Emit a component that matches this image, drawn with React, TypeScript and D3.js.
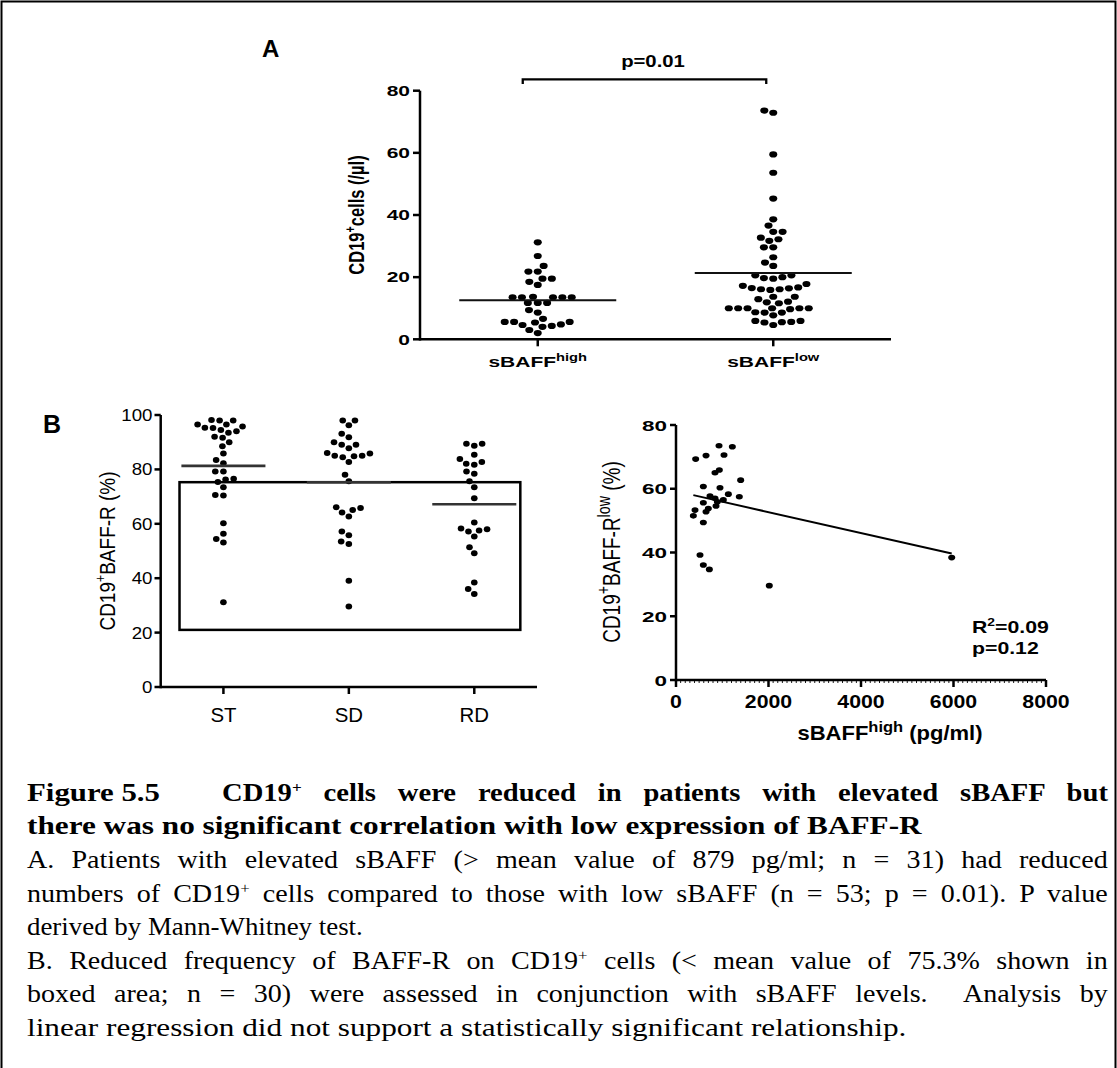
import React, { useLayoutEffect, useRef } from 'react';
import * as d3 from 'd3';

const W = 1117;
const H = 1068;
const SANS = '"Liberation Sans", Arial, sans-serif';
const SERIF = '"Liberation Serif", "Times New Roman", serif';

// ---------- Panel A data ----------
const groupsA = ['sBAFF_high', 'sBAFF_low'];
const highValues = [31.2, 26.8, 23.6, 21.8, 21.8, 19.5, 19.5, 18.5, 17.5, 13.5, 13.5, 13.5, 13.5, 13.5, 13.7, 11.7, 11.7, 11.7, 9.4, 8.6, 6.6, 5.6, 5.4, 5.6, 5.6, 4.3, 4.6, 4.8, 4.0, 3.0, 2.0];
const lowValues = [73.6, 72.9, 59.5, 53.6, 45.3, 38.6, 36.6, 34.6, 34.6, 32.2, 32.7, 31.7, 29.6, 29.6, 26.4, 24.7, 23.6, 20.6, 19.5, 19.7, 20.6, 20.0, 17.8, 16.7, 16.4, 15.9, 16.1, 16.1, 16.5, 17.2, 13.7, 11.9, 11.6, 12.1, 12.9, 13.7, 10.0, 10.0, 10.0, 8.7, 8.6, 7.7, 8.6, 9.7, 10.0, 10.0, 10.0, 5.9, 5.5, 4.6, 5.4, 5.6, 5.9];
const mediansA = [12.6, 21.3];
const yTicksA = [0, 20, 40, 60, 80];
const pTextA = 'p=0.01';

// ---------- Panel B left data ----------
const groupsB = ['ST', 'SD', 'RD'];
const stValues = [98.0, 98.0, 98.2, 95.8, 95.2, 96.5, 96.5, 95.3, 94.5, 93.5, 94.0, 92.0, 91.6, 90.0, 88.5, 85.8, 83.5, 82.3, 79.2, 79.2, 76.3, 75.4, 76.6, 73.4, 70.4, 70.6, 60.2, 56.3, 54.4, 53.1, 31.2];
const sdValues = [98.0, 98.0, 96.2, 93.1, 91.8, 90.0, 89.1, 89.1, 87.8, 85.0, 84.5, 86.0, 84.8, 85.8, 85.0, 82.7, 78.0, 75.6, 65.1, 66.1, 65.8, 64.2, 62.7, 57.2, 55.8, 52.6, 53.5, 39.1, 29.6];
const rdValues = [89.4, 88.7, 89.4, 83.8, 85.4, 82.1, 81.7, 82.7, 79.2, 78.4, 75.6, 73.4, 69.4, 60.5, 58.0, 57.2, 55.3, 57.5, 58.3, 49.2, 51.4, 38.4, 34.2, 36.0];
const mediansB = [81.3, 75.3, 67.2];
const boxRangeB = [21, 75.3];
const yTicksB = [0, 20, 40, 60, 80, 100];

// ---------- Panel B right data ----------
const sbaffX = [425, 649, 930, 1218, 1038, 843, 937, 1398, 591, 951, 1132, 1369, 735, 843, 894, 591, 699, 649, 865, 1023, 411, 375, 591, 519, 591, 721, 2017, 5961];
const baffLowY = [69.3, 70.4, 73.5, 73.2, 70.6, 65.0, 65.9, 62.7, 60.7, 60.3, 58.3, 57.5, 57.7, 57.0, 55.9, 55.6, 53.8, 52.8, 54.6, 56.5, 53.3, 51.5, 49.4, 39.2, 36.1, 34.7, 29.6, 38.4];
const regIntercept = 59.23;
const regSlope = -0.003283;
const xTicksC = [0, 2000, 4000, 6000, 8000];
const yTicksC = [0, 20, 40, 60, 80];
const statsC = ['R', '=0.09', 'p=0.12'];

// ---------- Caption ----------
type Seg = { t: string; sup?: boolean };
type CapLine = { x0: number; x1: number; y: number; bold?: boolean; justify?: boolean; segs: Seg[] };
const captionLines: CapLine[] = [
  { x0: 27, x1: 160, y: 801, bold: true, segs: [{ t: 'Figure 5.5' }] },
  { x0: 222, x1: 1108, y: 801, bold: true, justify: true, segs: [{ t: 'CD19' }, { t: '+', sup: true }, { t: ' cells were reduced in patients with elevated sBAFF but' }] },
  { x0: 27, x1: 922, y: 834, bold: true, segs: [{ t: 'there was no significant correlation with low expression of BAFF-R' }] },
  { x0: 27, x1: 1108, y: 868, justify: true, segs: [{ t: 'A. Patients with elevated sBAFF (> mean value of 879 pg/ml; n = 31) had reduced' }] },
  { x0: 27, x1: 1108, y: 901.5, justify: true, segs: [{ t: 'numbers of CD19' }, { t: '+', sup: true }, { t: ' cells compared to those with low sBAFF (n = 53; p = 0.01). P value' }] },
  { x0: 27, x1: 363, y: 935, segs: [{ t: 'derived by Mann-Whitney test.' }] },
  { x0: 27, x1: 1108, y: 968.5, justify: true, segs: [{ t: 'B. Reduced frequency of BAFF-R on CD19' }, { t: '+', sup: true }, { t: ' cells (< mean value of 75.3% shown in' }] },
  { x0: 27, x1: 1108, y: 1002, justify: true, segs: [{ t: 'boxed area; n = 30) were assessed in conjunction with sBAFF levels.  Analysis by' }] },
  { x0: 27, x1: 907, y: 1035.5, segs: [{ t: 'linear regression did not support a statistically significant relationship.' }] },
];

function renderSegs(segs: Seg[], fs: number, supScale = 0.65, supShift = 0.42) {
  const out: React.ReactNode[] = [];
  segs.forEach((s, i) => {
    if (s.sup) {
      out.push(<tspan key={i} fontSize={fs * supScale} dy={-fs * supShift}>{s.t}</tspan>);
    } else {
      const prevSup = i > 0 && segs[i - 1].sup;
      out.push(<tspan key={i} dy={prevSup ? fs * supShift : undefined}>{s.t}</tspan>);
    }
  });
  return out;
}

function SText(props: { x: number; y: number; sx?: number; rot?: boolean; anchor?: string; fs: number; bold?: boolean; segs: Seg[]; supScale?: number }) {
  const { x, y, sx = 1, rot = false, anchor = 'start', fs, bold = false, segs, supScale } = props;
  return (
    <text
      transform={`translate(${x},${y}) scale(${sx},1)${rot ? ' rotate(-90)' : ''}`}
      textAnchor={anchor as any}
      fontSize={fs}
      fontWeight={bold ? 'bold' : 'normal'}
      fontFamily={SANS}
      fill="#000"
      style={{ whiteSpace: 'pre' }}
    >
      {renderSegs(segs, fs, supScale)}
    </text>
  );
}

// simple deterministic beeswarm: returns horizontal offsets (unstretched px)
function swarm(vals: number[], y: (v: number) => number, d: number): number[] {
  const idx = vals.map((_, i) => i).sort((a, b) => vals[a] - vals[b]);
  const placed: { x: number; y: number }[] = [];
  const out = new Array(vals.length).fill(0);
  for (const i of idx) {
    const yi = y(vals[i]);
    const intervals: [number, number][] = [];
    for (const p of placed) {
      const dy = Math.abs(p.y - yi);
      if (dy < d) {
        const dx = Math.sqrt(d * d - dy * dy);
        intervals.push([p.x - dx, p.x + dx]);
      }
    }
    const cands = [0];
    intervals.forEach(([a, b]) => cands.push(a, b));
    cands.sort((a, b) => Math.abs(a) - Math.abs(b) || a - b);
    let best = 0;
    for (const c of cands) {
      if (intervals.every(([a, b]) => c <= a + 1e-6 || c >= b - 1e-6)) {
        best = c;
        break;
      }
    }
    out[i] = best;
    placed.push({ x: best, y: yi });
  }
  return out;
}

const CAP_FS = 25.5;
const CAP_FS_BOLD = 26;
const CAP_STRETCH = 1.1;

export default function App() {
  const capRefs = useRef<(SVGTextElement | null)[]>([]);

  useLayoutEffect(() => {
    const fit = () => {
      captionLines.forEach((ln, i) => {
        const el = capRefs.current[i];
        if (!el) return;
        el.setAttribute('word-spacing', '0');
        el.setAttribute('transform', `translate(${ln.x0},${ln.y})`);
        const natural = el.getComputedTextLength();
        const target = ln.x1 - ln.x0;
        let k = CAP_STRETCH;
        if (ln.justify) {
          const text = ln.segs.map((s) => s.t).join('');
          const spaces = (text.match(/ /g) || []).length;
          if (spaces > 0) el.setAttribute('word-spacing', String((target / k - natural) / spaces));
        } else {
          k = target / natural;
        }
        el.setAttribute('transform', `translate(${ln.x0},${ln.y}) scale(${k},1)`);
      });
    };
    fit();
    if ((document as any).fonts && (document as any).fonts.ready) (document as any).fonts.ready.then(fit);
  }, []);

  // ----- Panel A scales -----
  const yA = d3.scaleLinear().domain([0, 80]).range([339.3, 90.7]);
  const xA = d3.scalePoint<string>().domain(groupsA).range([420, 891]).padding(0.5);
  const stepA = xA.step();
  const SXA = 1.3;
  const rA = 3.1;
  const valsA = [highValues, lowValues];
  const offA = valsA.map((v) => swarm(v, yA, 7.2));

  // ----- Panel B left scales -----
  const yB = d3.scaleLinear().domain([0, 100]).range([687, 415]);
  const xB = d3.scalePoint<string>().domain(groupsB).range([160.7, 537]).padding(0.5);
  const stepB = xB.step();
  const SXB = 1.1;
  const rB = 3.0;
  const valsB = [stValues, sdValues, rdValues];
  const offB = valsB.map((v) => swarm(v, yB, 7.4));

  // ----- Panel B right scales -----
  const xC = d3.scaleLinear().domain([0, 8000]).range([676, 1046]);
  const yC = d3.scaleLinear().domain([0, 80]).range([680, 425]);
  const minorC = d3.range(0, 8001, 100);
  const xMin = d3.min(sbaffX) as number;
  const xMax = d3.max(sbaffX) as number;

  const AX = 2.5;

  return (
    <svg width={W} height={H} style={{ position: 'absolute', left: 0, top: 0, background: '#fff' }}>
      <rect x={0} y={0} width={W} height={H} fill="#fff" />
      {/* frame */}
      <path d={`M1.5,${H + 5} V1.5 H1115.5 V${H + 5}`} fill="none" stroke="#000" strokeWidth={2} />

      {/* ================= Panel A ================= */}
      <SText x={262} y={57} fs={24} bold segs={[{ t: 'A' }]} />
      <line x1={420} x2={420} y1={yA(80)} y2={yA(0) + AX / 2} stroke="#000" strokeWidth={AX} />
      {yTicksA.map((t) => (
        <g key={t}>
          <line x1={413} x2={420} y1={yA(t)} y2={yA(t)} stroke="#000" strokeWidth={AX} />
          <SText x={410} y={yA(t) + 5.3} sx={1.4} anchor="end" fs={15} bold segs={[{ t: String(t) }]} />
        </g>
      ))}
      <line x1={420} x2={891} y1={yA(0)} y2={yA(0)} stroke="#000" strokeWidth={AX} />
      {groupsA.map((g) => (
        <line key={g} x1={xA(g)} x2={xA(g)} y1={yA(0)} y2={yA(0) + 7} stroke="#000" strokeWidth={AX} />
      ))}
      <SText x={xA(groupsA[0]) as number} y={367} sx={1.4} anchor="middle" fs={15} bold segs={[{ t: 'sBAFF' }, { t: 'high', sup: true }]} supScale={0.7} />
      <SText x={xA(groupsA[1]) as number} y={367} sx={1.4} anchor="middle" fs={15} bold segs={[{ t: 'sBAFF' }, { t: 'low', sup: true }]} supScale={0.7} />
      <SText x={364} y={215} sx={1.3} rot anchor="middle" fs={16.5} bold segs={[{ t: 'CD19' }, { t: '+', sup: true }, { t: 'cells (/µl)' }]} />
      <path
        d={`M${(xA(groupsA[0]) as number) - 15},84 V79.3 H${(xA(groupsA[1]) as number) - 7} V84`}
        fill="none"
        stroke="#000"
        strokeWidth={2.3}
      />
      <SText x={653} y={67} sx={1.27} anchor="middle" fs={16} bold segs={[{ t: pTextA }]} />
      {valsA.map((vals, gi) =>
        vals.map((v, i) => (
          <ellipse key={`a${gi}-${i}`} cx={(xA(groupsA[gi]) as number) + offA[gi][i] * SXA} cy={yA(v)} rx={rA * SXA} ry={rA} fill="#000" />
        ))
      )}
      {mediansA.map((m, gi) => (
        <line key={gi} x1={(xA(groupsA[gi]) as number) - stepA / 3} x2={(xA(groupsA[gi]) as number) + stepA / 3} y1={yA(m)} y2={yA(m)} stroke="#111" strokeWidth={2} />
      ))}

      {/* ================= Panel B left ================= */}
      <SText x={43} y={433} fs={25} bold segs={[{ t: 'B' }]} />
      <line x1={160.7} x2={160.7} y1={yB(100)} y2={yB(0) + AX / 2} stroke="#000" strokeWidth={AX} />
      {yTicksB.map((t) => (
        <g key={t}>
          <line x1={154.5} x2={160.7} y1={yB(t)} y2={yB(t)} stroke="#000" strokeWidth={AX} />
          <SText x={152.5} y={yB(t) + 6} sx={1.1} anchor="end" fs={17} segs={[{ t: String(t) }]} />
        </g>
      ))}
      <line x1={160.7} x2={537} y1={yB(0)} y2={yB(0)} stroke="#000" strokeWidth={AX} />
      {groupsB.map((g) => (
        <g key={g}>
          <line x1={xB(g)} x2={xB(g)} y1={yB(0)} y2={yB(0) + 7} stroke="#000" strokeWidth={AX} />
          <SText x={xB(g) as number} y={722} sx={1.02} anchor="middle" fs={20} segs={[{ t: g }]} />
        </g>
      ))}
      <SText x={115} y={551} sx={1.2} rot anchor="middle" fs={19} segs={[{ t: 'CD19' }, { t: '+', sup: true }, { t: 'BAFF-R (%)' }]} />
      <rect
        x={(xB('ST') as number) - 0.35 * stepB}
        y={yB(boxRangeB[1])}
        width={(xB('RD') as number) + 0.367 * stepB - ((xB('ST') as number) - 0.35 * stepB)}
        height={yB(boxRangeB[0]) - yB(boxRangeB[1])}
        fill="none"
        stroke="#000"
        strokeWidth={AX}
      />
      {valsB.map((vals, gi) =>
        vals.map((v, i) => (
          <ellipse key={`b${gi}-${i}`} cx={(xB(groupsB[gi]) as number) + offB[gi][i] * SXB} cy={yB(v)} rx={rB * SXB} ry={rB} fill="#000" />
        ))
      )}
      {mediansB.map((m, gi) => (
        <line key={gi} x1={(xB(groupsB[gi]) as number) - 0.335 * stepB} x2={(xB(groupsB[gi]) as number) + 0.335 * stepB} y1={yB(m)} y2={yB(m)} stroke="#333" strokeWidth={2.6} />
      ))}

      {/* ================= Panel B right ================= */}
      <line x1={676} x2={676} y1={yC(80)} y2={yC(0) + AX / 2} stroke="#000" strokeWidth={AX} />
      {yTicksC.map((t) => (
        <g key={t}>
          <line x1={670} x2={676} y1={yC(t)} y2={yC(t)} stroke="#000" strokeWidth={AX} />
          <SText x={667} y={yC(t) + 5.5} sx={1.45} anchor="end" fs={15.5} bold segs={[{ t: String(t) }]} />
        </g>
      ))}
      <line x1={676} x2={1046} y1={yC(0)} y2={yC(0)} stroke="#000" strokeWidth={AX} />
      {minorC.map((t) => (
        <line key={t} x1={xC(t)} x2={xC(t)} y1={yC(0)} y2={yC(0) + 3} stroke="#000" strokeWidth={0.9} />
      ))}
      {xTicksC.map((t) => (
        <g key={t}>
          <line x1={xC(t)} x2={xC(t)} y1={yC(0)} y2={yC(0) + 7} stroke="#000" strokeWidth={AX} />
          <SText x={xC(t)} y={708} sx={1.12} anchor="middle" fs={19} bold segs={[{ t: String(t) }]} />
        </g>
      ))}
      <SText x={890} y={740} sx={1.1} anchor="middle" fs={20} bold segs={[{ t: 'sBAFF' }, { t: 'high', sup: true }, { t: ' (pg/ml)' }]} supScale={0.75} />
      <SText x={620} y={552} sx={1.3} rot anchor="middle" fs={19} segs={[{ t: 'CD19' }, { t: '+', sup: true }, { t: 'BAFF-R' }, { t: 'low', sup: true }, { t: ' (%)' }]} supScale={0.75} />
      {sbaffX.map((xv, i) => (
        <ellipse key={`c${i}`} cx={xC(xv)} cy={yC(baffLowY[i])} rx={3.5} ry={2.8} fill="#000" />
      ))}
      <line
        x1={xC(xMin)}
        x2={xC(xMax)}
        y1={yC(regIntercept + regSlope * xMin)}
        y2={yC(regIntercept + regSlope * xMax)}
        stroke="#000"
        strokeWidth={2}
      />
      <SText x={972} y={633} sx={1.25} fs={17} bold segs={[{ t: statsC[0] }, { t: '2', sup: true }, { t: statsC[1] }]} />
      <SText x={972} y={654} sx={1.25} fs={17} bold segs={[{ t: statsC[2] }]} />

      {/* ================= Caption ================= */}
      {captionLines.map((ln, i) => {
        const fs = ln.bold ? CAP_FS_BOLD : CAP_FS;
        return (
          <text
            key={i}
            ref={(el) => {
              capRefs.current[i] = el;
            }}
            x={0}
            y={0}
            transform={`translate(${ln.x0},${ln.y})`}
            fontFamily={SERIF}
            fontSize={fs}
            fontWeight={ln.bold ? 'bold' : 'normal'}
            fill="#000"
            style={{ whiteSpace: 'pre' }}
          >
            {renderSegs(ln.segs, fs, 0.6, 0.35)}
          </text>
        );
      })}
    </svg>
  );
}
